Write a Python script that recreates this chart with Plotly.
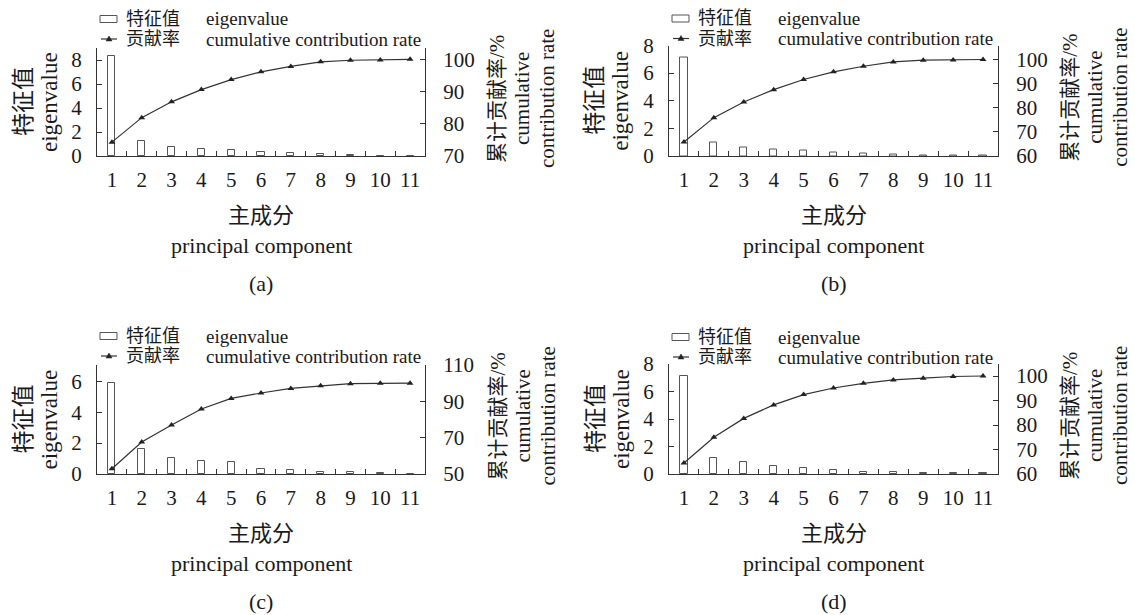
import plotly.graph_objects as go

W, H = 1135, 615

# ---------------- data ----------------
components = list(range(1, 12))
tick_labels = [str(c) for c in components]

eigen_a = [8.30, 1.22, 0.78, 0.61, 0.50, 0.36, 0.28, 0.19, 0.08, 0.03, 0.02]
cum_a = [74.3, 81.9, 86.8, 90.6, 93.7, 96.1, 97.8, 99.2, 99.7, 99.8, 100.0]

eigen_b = [7.16, 1.01, 0.65, 0.48, 0.39, 0.27, 0.19, 0.12, 0.05, 0.02, 0.01]
cum_b = [65.8, 75.9, 82.4, 87.5, 91.7, 94.9, 97.2, 99.0, 99.7, 99.8, 100.0]

eigen_c = [5.91, 1.61, 1.01, 0.86, 0.75, 0.30, 0.28, 0.15, 0.11, 0.05, 0.01]
cum_c = [52.9, 67.6, 77.0, 85.8, 91.6, 94.6, 97.1, 98.6, 99.7, 99.9, 100.0]

eigen_d = [7.13, 1.15, 0.85, 0.59, 0.41, 0.27, 0.17, 0.12, 0.07, 0.05, 0.04]
cum_d = [64.5, 75.0, 82.7, 88.2, 92.4, 95.1, 97.0, 98.4, 99.1, 99.8, 100.0]

left_ticks_a = [0, 2, 4, 6, 8]
right_ticks_a = [70, 80, 90, 100]
left_ticks_b = [0, 2, 4, 6, 8]
right_ticks_b = [60, 70, 80, 90, 100]
left_ticks_c = [0, 2, 4, 6]
right_ticks_c = [50, 70, 90, 110]
left_ticks_d = [0, 2, 4, 6, 8]
right_ticks_d = [60, 70, 80, 90, 100]

panel_labels = ["(a)", "(b)", "(c)", "(d)"]

legend_bar_cn = "特征值"
legend_bar_en = "eigenvalue"
legend_line_cn = "贡献率"
legend_line_en = "cumulative contribution rate"
left_title_lines = ["特征值", "eigenvalue"]
right_title_lines = ["累计贡献率/%", "cumulative", "contribution rate"]
x_title_lines = ["主成分", "principal component"]

# ---------------- styling / layout ----------------
FONT = "Liberation Serif, Times New Roman, Noto Sans CJK SC, serif"
TXT = "#1a1a1a"
AX = "#333333"
BAR_EDGE = "#555555"

panels = [
    dict(eig=eigen_a, cum=cum_a, lt=left_ticks_a, rt=right_ticks_a,
         lr=[0, 9.0], rr=[70, 103.5], box=(97, 425, 48, 156)),
    dict(eig=eigen_b, cum=cum_b, lt=left_ticks_b, rt=right_ticks_b,
         lr=[0, 8.0], rr=[60, 105.8], box=(669, 998, 45.5, 156)),
    dict(eig=eigen_c, cum=cum_c, lt=left_ticks_c, rt=right_ticks_c,
         lr=[0, 7.05], rr=[50, 110], box=(97, 425, 365, 474)),
    dict(eig=eigen_d, cum=cum_d, lt=left_ticks_d, rt=right_ticks_d,
         lr=[0, 8.0], rr=[60, 104.9], box=(669, 998, 364, 474)),
]


def fx(px):
    return px / W


def fy(py):
    return 1 - py / H


fig = go.Figure()
layout = dict(
    width=W, height=H, autosize=False,
    margin=dict(l=0, r=0, t=0, b=0, pad=0),
    paper_bgcolor="white", plot_bgcolor="white",
    showlegend=False,
    font=dict(family=FONT, color=TXT, size=20),
)
annotations = []
shapes = []

minor_vals = [c + 0.5 for c in components[:-1]]
tickfont = dict(family=FONT, size=21, color=TXT)

for i, p in enumerate(panels):
    x0, x1, yt, yb = p["box"]
    xs = "" if i == 0 else str(i + 1)
    xref = "x" + xs
    yl_n = 2 * i + 1
    yr_n = 2 * i + 2
    yl_ref = "y" if yl_n == 1 else f"y{yl_n}"
    yr_ref = f"y{yr_n}"
    yl_name = "yaxis" if yl_n == 1 else f"yaxis{yl_n}"
    yr_name = f"yaxis{yr_n}"

    fig.add_trace(go.Bar(
        x=components, y=p["eig"], xaxis=xref, yaxis=yl_ref, width=0.24,
        marker=dict(color="white", line=dict(color=BAR_EDGE, width=1)),
        name=legend_bar_cn,
    ))
    fig.add_trace(go.Scatter(
        x=components, y=p["cum"], xaxis=xref, yaxis=yr_ref,
        mode="lines+markers",
        line=dict(color=AX, width=1.2),
        marker=dict(symbol="triangle-up", size=6, color="#222"),
        name=legend_line_cn,
    ))

    layout["xaxis" + xs] = dict(
        domain=[fx(x0), fx(x1)], anchor=yl_ref, range=[0.5, 11.5],
        automargin=False,
        tickmode="array", tickvals=components, ticktext=tick_labels,
        ticks="", showline=True, linecolor=AX, linewidth=1,
        showgrid=False, zeroline=False, tickfont=tickfont,
        ticklabelstandoff=5,
        minor=dict(tickmode="array", tickvals=minor_vals, ticks="inside",
                   ticklen=5, tickcolor=AX, tickwidth=1, showgrid=False),
    )
    layout[yl_name] = dict(
        domain=[fy(yb), fy(yt)], anchor=xref, range=p["lr"], automargin=False,
        tickmode="array", tickvals=p["lt"], ticks="inside", ticklen=5,
        tickcolor=AX, showline=True, linecolor=AX, linewidth=1,
        showgrid=False, zeroline=False, tickfont=tickfont,
        ticklabelstandoff=10,
    )
    layout[yr_name] = dict(
        domain=[fy(yb), fy(yt)], anchor=xref, overlaying=yl_ref, side="right",
        automargin=False,
        range=p["rr"], tickmode="array", tickvals=p["rt"], ticks="inside",
        ticklen=5, tickcolor=AX, showline=True, linecolor=AX, linewidth=1,
        showgrid=False, zeroline=False, tickfont=tickfont,
        ticklabelstandoff=13,
    )

    # ---- legend (drawn in paper space) ----
    lx = x0 + 3
    r1 = yt - 29 if i in (0, 2) else yt - 27
    r2 = r1 + 20
    shapes.append(dict(type="rect", xref="paper", yref="paper",
                       x0=fx(lx), x1=fx(lx + 17), y0=fy(r1 + 3.5), y1=fy(r1 - 3.5),
                       line=dict(color=BAR_EDGE, width=1), fillcolor="white"))
    shapes.append(dict(type="line", xref="paper", yref="paper",
                       x0=fx(lx + 1), x1=fx(lx + 17), y0=fy(r2), y1=fy(r2),
                       line=dict(color=AX, width=1.2)))
    cx = lx + 9
    shapes.append(dict(type="path", xref="paper", yref="paper",
                       path=f"M{fx(cx)},{fy(r2 - 3)} L{fx(cx + 3)},{fy(r2 + 2)} "
                            f"L{fx(cx - 3)},{fy(r2 + 2)} Z",
                       line=dict(color="#222", width=0.5), fillcolor="#222"))
    for txt, tx, ty, fs in [(legend_bar_cn, lx + 25, r1, 18), (legend_bar_en, lx + 105, r1, 19),
                            (legend_line_cn, lx + 25, r2, 18), (legend_line_en, lx + 105, r2, 19)]:
        annotations.append(dict(text=txt, x=fx(tx), y=fy(ty), xref="paper", yref="paper",
                                xanchor="left", yanchor="middle", showarrow=False,
                                borderpad=0,
                                font=dict(family=FONT, size=fs, color=TXT)))

    # ---- left axis title ----
    ymid = (yt + yb) / 2
    for k, line in enumerate(left_title_lines):
        annotations.append(dict(text=line, x=fx(x0 - 74 + 26 * k), y=fy(ymid),
                                xref="paper", yref="paper", textangle=-90,
                                xanchor="center", yanchor="middle", showarrow=False,
                                borderpad=0,
                                font=dict(family=FONT, size=23, color=TXT)))
    # ---- right axis title ----
    for k, line in enumerate(right_title_lines):
        annotations.append(dict(text=line, x=fx(x1 + 72 + 25 * k), y=fy(ymid - 3),
                                xref="paper", yref="paper", textangle=-90,
                                xanchor="center", yanchor="middle", showarrow=False,
                                borderpad=0,
                                font=dict(family=FONT, size=21, color=TXT)))
    # ---- x title and panel label ----
    xmid = (x0 + x1) / 2
    base = yb
    for k, line in enumerate(x_title_lines):
        annotations.append(dict(text=line, x=fx(xmid), y=fy(base + 59 + 30 * k),
                                xref="paper", yref="paper",
                                xanchor="center", yanchor="middle", showarrow=False,
                                font=dict(family=FONT, size=22, color=TXT)))
    annotations.append(dict(text=panel_labels[i], x=fx(xmid), y=fy(base + 127),
                            xref="paper", yref="paper",
                            xanchor="center", yanchor="middle", showarrow=False,
                            font=dict(family=FONT, size=22, color=TXT)))

layout["annotations"] = annotations
layout["shapes"] = shapes
layout["bargap"] = 0
fig.update_layout(**layout)

fig.write_html(
    "out.html",
    include_plotlyjs=True,
    config={"displayModeBar": False},
    post_script="document.body.style.margin='0';document.body.style.padding='0';",
)
